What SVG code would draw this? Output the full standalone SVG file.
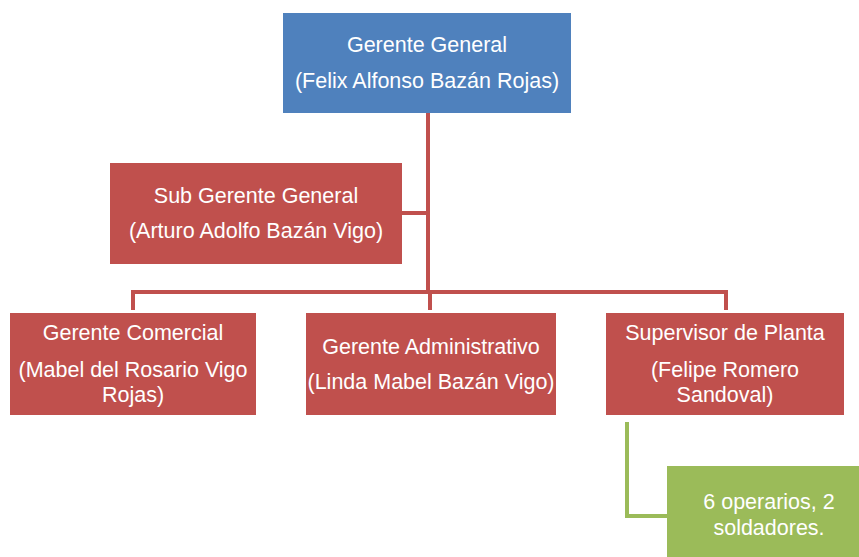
<svg xmlns="http://www.w3.org/2000/svg" width="859" height="557" viewBox="0 0 859 557">
<style>
.t{font-family:"Liberation Sans","Noto Sans",sans-serif;font-size:21.5px;fill:#ffffff;text-anchor:middle}
.red{fill:#C0504D}
.blue{fill:#4F81BD}
.green{fill:#9BBB59}
.lr{stroke:#C0504D;stroke-width:4;fill:none}
.lg{stroke:#9BBB59;stroke-width:4;fill:none}
</style>
<rect width="859" height="557" fill="#ffffff"/>
<g id="connectors">
<path class="lr" d="M428 113 V292"/>
<path class="lr" d="M402 213 H428"/>
<path class="lr" d="M133 310 V292 H726 V310"/>
<path class="lr" d="M430 292 V310"/>
<path class="lg" d="M627 422 V516 H667"/>
</g>
<g id="n1">
<rect class="blue" x="283" y="13" width="288" height="100"/>
<text class="t" x="427" y="52">Gerente General</text>
<text class="t" x="427" y="88">(Felix Alfonso Bazán Rojas)</text>
</g>
<g id="n2">
<rect class="red" x="110" y="163" width="292" height="101"/>
<text class="t" x="256" y="203">Sub Gerente General</text>
<text class="t" x="256" y="238">(Arturo Adolfo Bazán Vigo)</text>
</g>
<g id="n3">
<rect class="red" x="10" y="313" width="246" height="102"/>
<text class="t" x="133" y="340">Gerente Comercial</text>
<text class="t" x="133" y="377">(Mabel del Rosario Vigo</text>
<text class="t" x="133" y="402">Rojas)</text>
</g>
<g id="n4">
<rect class="red" x="306" y="313" width="250" height="102"/>
<text class="t" x="431" y="354">Gerente Administrativo</text>
<text class="t" x="431" y="389">(Linda Mabel Bazán Vigo)</text>
</g>
<g id="n5">
<rect class="red" x="606" y="313" width="238" height="102"/>
<text class="t" x="725" y="340">Supervisor de Planta</text>
<text class="t" x="725" y="377">(Felipe Romero</text>
<text class="t" x="725" y="402">Sandoval)</text>
</g>
<g id="n6">
<rect class="green" x="667" y="466" width="192" height="91"/>
<text class="t" x="769" y="509">6 operarios, 2</text>
<text class="t" x="769" y="535">soldadores.</text>
</g>
</svg>
